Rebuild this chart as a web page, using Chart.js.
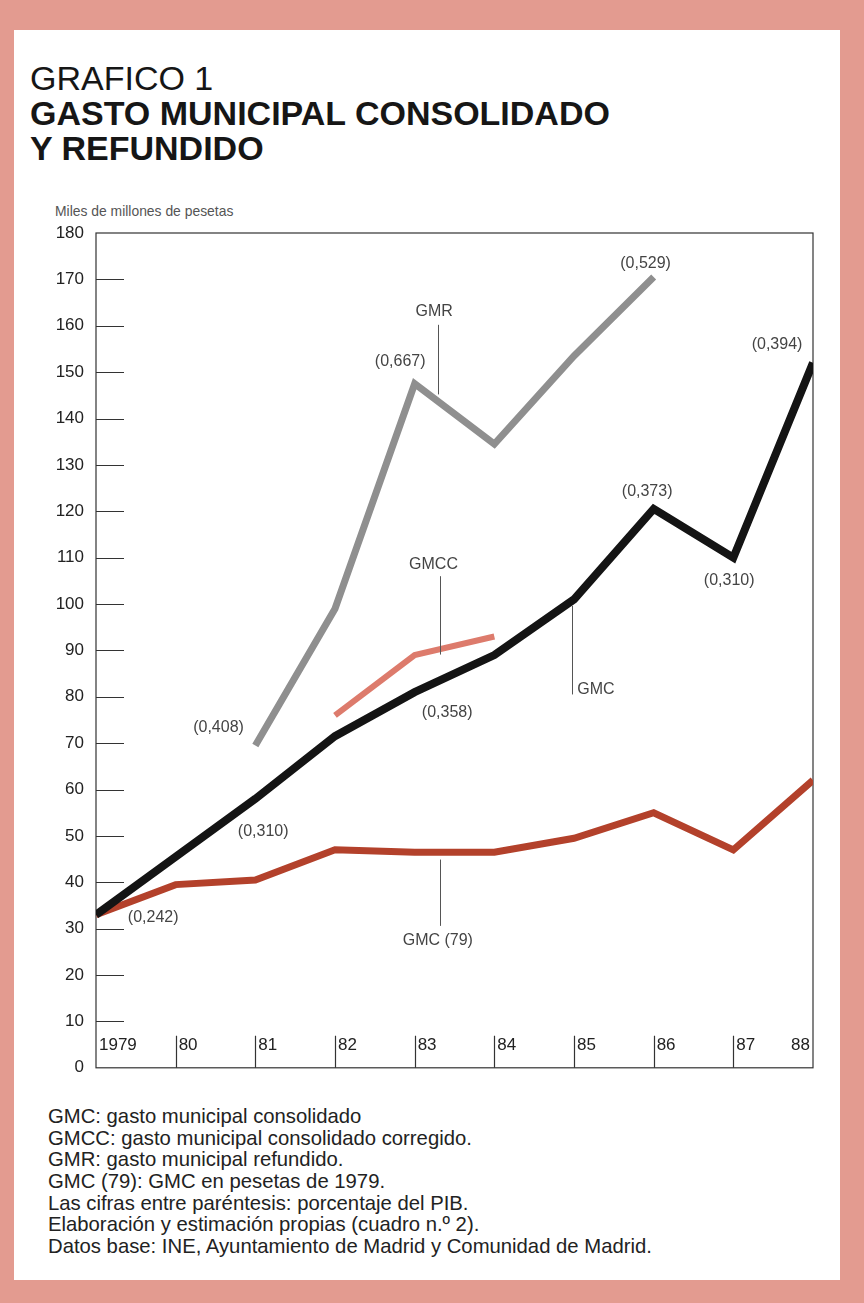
<!DOCTYPE html>
<html>
<head>
<meta charset="utf-8">
<script src="https://cdn.jsdelivr.net/npm/chart.js@4.4.1/dist/chart.umd.min.js"></script>
<style>
    body {margin: 0; width: 864px; height: 1303px; background: #e39b90; position: relative; overflow: hidden;
        font-family: "Liberation Sans", Arial, Helvetica, sans-serif;}
    .panel {position: absolute; left: 14px; top: 30px; width: 826px; height: 1250px; background: #fff;}
    .titulo {position: absolute; left: 30px; top: 61px; font-size: 34px; line-height: 35px; color: #161616;}
    .titulo b {font-weight: bold;}
    .unidad {position: absolute; left: 55px; top: 203px; font-size: 13.9px; color: #555;}
    #grafico {position: absolute; left: 30px; top: 200px; width: 800px; height: 890px;}
    .notas {position: absolute; left: 48px; top: 1106px; font-size: 20.3px; line-height: 21.67px; color: #222;}
</style>
</head>
<body>
<div class="panel"></div>
<div class="titulo">GRAFICO 1<br><b>GASTO MUNICIPAL CONSOLIDADO<br>Y REFUNDIDO</b></div>
<div class="unidad">Miles de millones de pesetas</div>
<div id="grafico"><canvas id="gastoChart"></canvas></div>
<div class="notas">
    GMC: gasto municipal consolidado<br>
    GMCC: gasto municipal consolidado corregido.<br>
    GMR: gasto municipal refundido.<br>
    GMC (79): GMC en pesetas de 1979.<br>
    Las cifras entre paréntesis: porcentaje del PIB.<br>
    Elaboración y estimación propias (cuadro n.º 2).<br>
    Datos base: INE, Ayuntamiento de Madrid y Comunidad de Madrid.
</div>
<script>
//------ Datos ------
const years = [1979, 1980, 1981, 1982, 1983, 1984, 1985, 1986, 1987, 1988];
const yearLabels = ['1979', '80', '81', '82', '83', '84', '85', '86', '87', '88'];
const gmc = [33, 45.5, 58, 71.5, 81, 89, 101, 120.5, 110, 152];
const gmr = [null, null, 69.5, 99, 147.5, 134.5, 153.5, 170.5, null, null];
const gmcc = [null, null, null, 76, 89, 93, null, null, null, null];
const gmc79 = [33, 39.5, 40.5, 47, 46.5, 46.5, 49.5, 55, 47, 62];
const yMin = 0, yMax = 180, yStep = 10;

// Textos sobre el gráfico (ancla en año / valor)
const notas = [
    {texto: '(0,242)', anio: 1979.40, valor: 32.3},
    {texto: '(0,310)', anio: 1980.78, valor: 50.9},
    {texto: '(0,408)', anio: 1980.22, valor: 73.4},
    {texto: '(0,358)', anio: 1983.09, valor: 76.6},
    {texto: '(0,667)', anio: 1982.50, valor: 152.3},
    {texto: 'GMR', anio: 1983.01, valor: 163.0},
    {texto: '(0,529)', anio: 1985.58, valor: 173.5},
    {texto: '(0,394)', anio: 1987.23, valor: 155.9},
    {texto: '(0,373)', anio: 1985.60, valor: 124.2},
    {texto: '(0,310)', anio: 1986.63, valor: 105.1},
    {texto: 'GMCC', anio: 1982.93, valor: 108.6},
    {texto: 'GMC', anio: 1985.04, valor: 81.6},
    {texto: 'GMC (79)', anio: 1982.85, valor: 27.4}
];
// Líneas que unen rótulo y serie
const guias = [
    {anio: 1983.29, desde: 160.2, hasta: 145.2},
    {anio: 1983.32, desde: 106.0, hasta: 89.1},
    {anio: 1984.97, desde: 99.6, hasta: 80.5},
    {anio: 1983.32, desde: 44.9, hasta: 30.6}
];

const puntos = serie => years.map((a, i) => ({x: a, y: serie[i]})).filter(p => p.y !== null);
const fuente = '"Liberation Sans", Arial, sans-serif';

// Marco, marcas de eje y rótulos de años
const marco = {
    id: 'marco',
    beforeDatasetsDraw(chart) {
        const {ctx, chartArea: a, scales: {x, y}} = chart;
        ctx.save();
        ctx.strokeStyle = '#333';
        ctx.lineWidth = 1.2;
        ctx.strokeRect(a.left, a.top, a.right - a.left, a.bottom - a.top);
        ctx.beginPath();
        y.ticks.forEach(t => {
            if (t.value <= yMin || t.value >= yMax) return;
            const py = Math.round(y.getPixelForValue(t.value)) + 0.5;
            ctx.moveTo(a.left, py);
            ctx.lineTo(a.left + 28, py);
        });
        years.forEach((anio, i) => {
            if (i === 0 || i === years.length - 1) return;
            const px = Math.round(x.getPixelForValue(anio)) + 0.5;
            ctx.moveTo(px, a.bottom);
            ctx.lineTo(px, a.bottom - 32);
        });
        ctx.stroke();
        ctx.fillStyle = '#222';
        ctx.font = '17px ' + fuente;
        ctx.textBaseline = 'middle';
        years.forEach((anio, i) => {
            const px = x.getPixelForValue(anio);
            const ultimo = i === years.length - 1;
            ctx.textAlign = ultimo ? 'right' : 'left';
            ctx.fillText(yearLabels[i], ultimo ? px - 3 : px + 3, a.bottom - 22);
        });
        ctx.restore();
    },
    afterDatasetsDraw(chart) {
        const {ctx, scales: {x, y}} = chart;
        ctx.save();
        ctx.strokeStyle = '#555';
        ctx.lineWidth = 1;
        ctx.beginPath();
        guias.forEach(g => {
            const px = Math.round(x.getPixelForValue(g.anio)) + 0.5;
            ctx.moveTo(px, y.getPixelForValue(g.desde));
            ctx.lineTo(px, y.getPixelForValue(g.hasta));
        });
        ctx.stroke();
        ctx.fillStyle = '#444';
        ctx.font = '16px ' + fuente;
        ctx.textAlign = 'left';
        ctx.textBaseline = 'middle';
        notas.forEach(n => ctx.fillText(n.texto, x.getPixelForValue(n.anio), y.getPixelForValue(n.valor)));
        ctx.restore();
    }
};

const linea = (label, serie, color, ancho) => ({
    label, data: puntos(serie), borderColor: color, backgroundColor: color,
    borderWidth: ancho, pointRadius: 0, tension: 0, borderJoinStyle: 'miter', borderCapStyle: 'butt'
});

new Chart(document.getElementById('gastoChart'), {
    type: 'line',
    data: {
        datasets: [
            linea('GMC', gmc, '#141414', 8),
            linea('GMR', gmr, '#8f8f8f', 7),
            linea('GMCC', gmcc, '#dd7b6c', 6),
            linea('GMC (79)', gmc79, '#b3412b', 7)
        ]
    },
    options: {
        responsive: true,
        maintainAspectRatio: false,
        animation: false,
        layout: {padding: {top: 33, right: 17, bottom: 16, left: 0}},
        plugins: {legend: {display: false}, tooltip: {enabled: false}},
        scales: {
            x: {type: 'linear', min: years[0], max: years[years.length - 1], display: false},
            y: {
                min: yMin, max: yMax,
                afterFit: s => { s.width = 66; },
                border: {display: false},
                grid: {drawOnChartArea: false, drawTicks: false},
                ticks: {stepSize: yStep, padding: 12, color: '#222', font: {family: fuente, size: 17}}
            }
        }
    },
    plugins: [marco]
});
</script>
</body>
</html>
